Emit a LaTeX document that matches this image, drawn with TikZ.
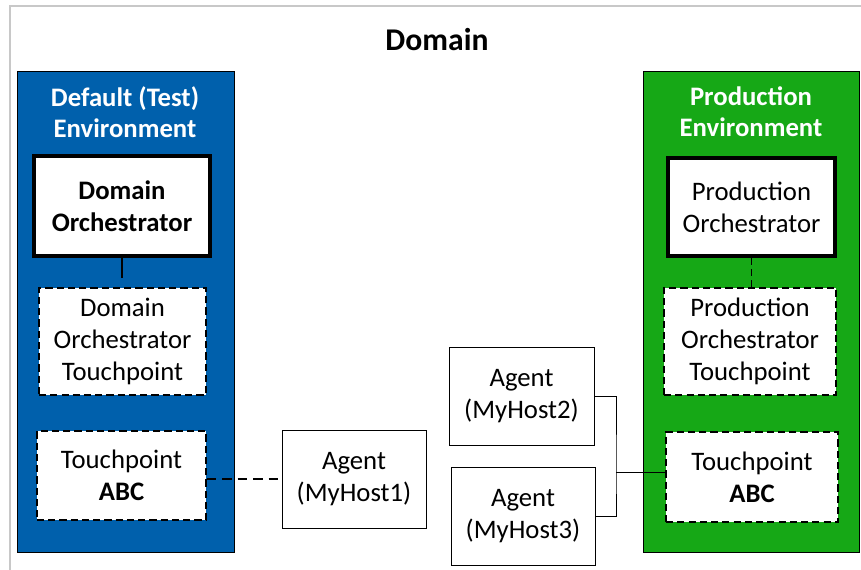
\documentclass[tikz,border=0pt]{standalone}
\usepackage{fontspec}
\setmainfont{Carlito}
\usetikzlibrary{positioning}
\definecolor{testblue}{RGB}{0,96,172}
\definecolor{prodgreen}{RGB}{22,168,22}
\definecolor{framegray}{RGB}{200,200,200}
\begin{document}
\begin{tikzpicture}[x=0.025cm, y=-0.025cm,
    txt/.style={font=\fontsize{19}{23}\selectfont, align=center, inner sep=0pt},
    envbox/.style={draw=black, line width=0.6pt, inner sep=0pt},
    orchbox/.style={txt, draw=black, fill=white, line width=2.8pt},
    touchbox/.style={txt, draw=black, fill=white, line width=0.9pt, dash pattern=on 5pt off 3pt},
    agentbox/.style={txt, draw=black, fill=white, line width=0.6pt}]
  \path[use as bounding box] (0,0) rectangle (861,570);
  % frame of the domain
  \draw[framegray, line width=2pt] (10,570) -- (10,6) -- (861,6);
  \node[font=\fontsize{22.5}{27}\selectfont\bfseries] (domain) at (437,40) {Domain};
  % environments
  \node[envbox, fill=testblue, minimum width=217*0.025cm, minimum height=481*0.025cm] (testenv) at (125.5,312) {};
  \node[envbox, fill=prodgreen, minimum width=216*0.025cm, minimum height=481*0.025cm] (prodenv) at (751.5,312) {};
  \node[txt, text=white, font=\fontsize{19}{22}\selectfont\bfseries] (testtitle) at (125,112) {Default (Test)\\Environment};
  \node[txt, text=white, font=\fontsize{19}{22}\selectfont\bfseries] (prodtitle) at (751,112) {Production\\Environment};
  % orchestrators
  \node[orchbox, font=\fontsize{19}{23}\selectfont\bfseries, minimum width=176*0.025cm, minimum height=100*0.025cm] (domorch) at (122,206) {Domain\\Orchestrator};
  \node[orchbox, minimum width=167*0.025cm, minimum height=98*0.025cm] (prodorch) at (751.5,207) {Production\\Orchestrator};
  % touchpoints
  \node[touchbox, minimum width=167*0.025cm, minimum height=107*0.025cm] (domtp) at (122.5,341.5) {Domain\\Orchestrator\\Touchpoint};
  \node[touchbox, minimum width=172*0.025cm, minimum height=107*0.025cm] (prodtp) at (750,341.5) {Production\\Orchestrator\\Touchpoint};
  \node[touchbox, minimum width=169*0.025cm, minimum height=89*0.025cm] (testabc) at (121.5,475.5) {Touchpoint\\\textbf{ABC}};
  \node[touchbox, minimum width=172*0.025cm, minimum height=90*0.025cm] (prodabc) at (752,477) {Touchpoint\\\textbf{ABC}};
  % agents
  \node[agentbox, minimum width=144*0.025cm, minimum height=98*0.025cm] (host1) at (354,479) {Agent\\(MyHost1)};
  \node[agentbox, minimum width=145*0.025cm, minimum height=98*0.025cm] (host2) at (521.5,396) {Agent\\(MyHost2)};
  \node[agentbox, minimum width=144*0.025cm, minimum height=98*0.025cm] (host3) at (523,516) {Agent\\(MyHost3)};
  % connections
  \coordinate (fork) at (616,472);
  \draw[line width=0.9pt] (domorch.south) -- ++(0,20);
  \draw[line width=0.9pt, dash pattern=on 5pt off 3pt] (prodorch.south) -- (prodtp.north -| prodorch.south);
  \draw[line width=0.9pt, dash pattern=on 7pt off 4pt] (testabc.east |- host1.west) -- (host1.west);
  \draw[line width=0.6pt] (host2.east) -| (fork) |- (host3.east);
  \draw[line width=0.6pt] (fork) -- (prodabc.west |- fork);
\end{tikzpicture}
\end{document}
